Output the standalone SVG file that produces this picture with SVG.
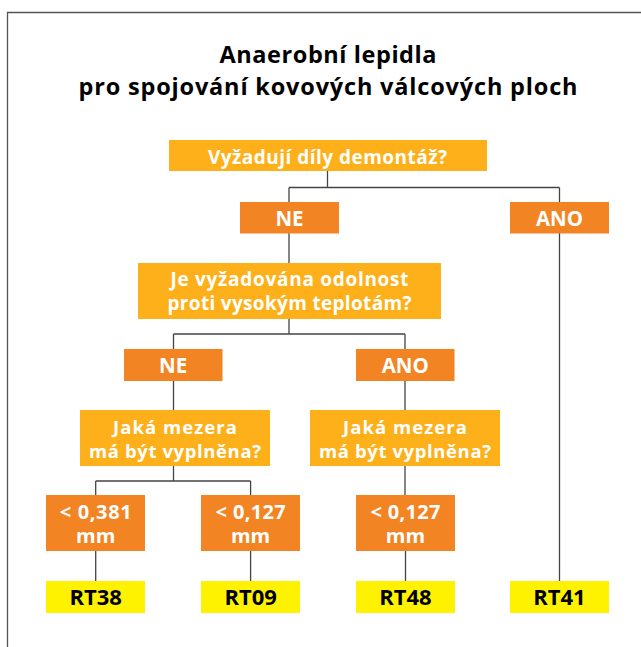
<svg xmlns="http://www.w3.org/2000/svg" width="641" height="647" viewBox="0 0 641 647">
<style>
.q{fill:#FDB01A}
.o{fill:#F28423}
.y{fill:#FFF200}
.t{font-family:"Open Sans","Liberation Sans",sans-serif;font-weight:700;text-anchor:middle}
.w{fill:#fff;font-size:19px}
.s{font-size:20.5px}
.v{font-size:20px}
.j{font-size:18.5px}
.b{fill:#000;font-size:22px}
.h{fill:#000;font-size:23.5px}
.c{fill:none;stroke:#444;stroke-width:1.3}
</style>
<rect x="0" y="0" width="641" height="647" fill="#fff"/>
<path d="M7.5 647 V12.5 H641" fill="none" stroke="#555" stroke-width="1.3"/>
<g id="title">
<text class="t h" x="328" y="63" textLength="217">Anaerobní lepidla</text>
<text class="t h" x="328" y="95" textLength="499">pro spojování kovových válcových ploch</text>
</g>
<g id="connectors" class="c">
<path d="M327.5 171 V187.5 M289 187.5 H559.5 M289 187.5 V202 M559.5 187.5 V202"/>
<path d="M289 233 V263"/>
<path d="M559.5 233 V581"/>
<path d="M289 318 V334 M173.5 334 H405 M173.5 334 V349 M405 334 V349"/>
<path d="M173.5 381 V410 M405 381 V410"/>
<path d="M173.5 466 V481 M95.7 481 H250.6 M95.7 481 V495 M250.6 481 V495"/>
<path d="M405 466 V495"/>
<path d="M95.7 551 V581 M250.6 551 V581 M405.5 551 V581"/>
</g>
<g id="q1"><rect class="q" x="169" y="140" width="318" height="31"/><text class="t w" x="327.5" y="163.5" textLength="239">Vyžadují díly demontáž?</text></g>
<g id="ne1"><rect class="o" x="240" y="202" width="99" height="31.5"/><text class="t w s" x="289.5" y="226">NE</text></g>
<g id="ano1"><rect class="o" x="510" y="202" width="99" height="31.5"/><text class="t w s" x="559.5" y="226">ANO</text></g>
<g id="q2"><rect class="q" x="138" y="263" width="303" height="56"/><text class="t w" x="289.5" y="286" textLength="238">Je vyžadována odolnost</text><text class="t w" x="289.5" y="310" textLength="244">proti vysokým teplotám?</text></g>
<g id="ne2"><rect class="o" x="124" y="349" width="98.5" height="32"/><text class="t w s" x="173.2" y="373">NE</text></g>
<g id="ano2"><rect class="o" x="356" y="349" width="98.5" height="32"/><text class="t w s" x="405.3" y="373">ANO</text></g>
<g id="q3"><rect class="q" x="80" y="410" width="190" height="56"/><text class="t w j" x="175" y="433.5" textLength="124">Jaká mezera</text><text class="t w j" x="175" y="457.5" textLength="172">má být vyplněna?</text></g>
<g id="q4"><rect class="q" x="310" y="410" width="190" height="56"/><text class="t w j" x="405" y="433.5" textLength="124">Jaká mezera</text><text class="t w j" x="405" y="457.5" textLength="172">má být vyplněna?</text></g>
<g id="v1"><rect class="o" x="46" y="495" width="99" height="56"/><text class="t w v" x="95.7" y="518.5" textLength="72">&lt; 0,381</text><text class="t w v" x="95.7" y="543">mm</text></g>
<g id="v2"><rect class="o" x="201" y="495" width="99" height="56"/><text class="t w v" x="250.6" y="518.5" textLength="70">&lt; 0,127</text><text class="t w v" x="250.6" y="543">mm</text></g>
<g id="v3"><rect class="o" x="356" y="495" width="99" height="56"/><text class="t w v" x="405.5" y="518.5" textLength="70">&lt; 0,127</text><text class="t w v" x="405.5" y="543">mm</text></g>
<g id="rt38"><rect class="y" x="46" y="581" width="99" height="32"/><text class="t b" x="95.7" y="605">RT38</text></g>
<g id="rt09"><rect class="y" x="201" y="581" width="99" height="32"/><text class="t b" x="250.6" y="605">RT09</text></g>
<g id="rt48"><rect class="y" x="356" y="581" width="99" height="32"/><text class="t b" x="405.5" y="605">RT48</text></g>
<g id="rt41"><rect class="y" x="510" y="581" width="99" height="32"/><text class="t b" x="559.5" y="605">RT41</text></g>
</svg>
